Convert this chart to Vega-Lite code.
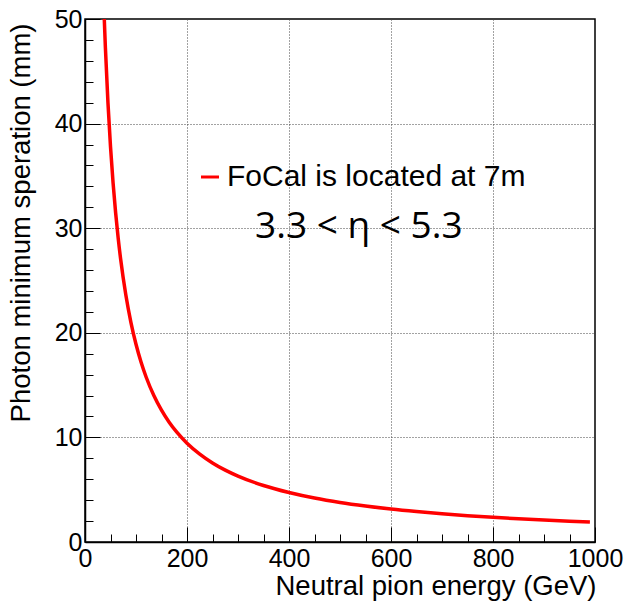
{
  "$schema": "https://vega.github.io/schema/vega-lite/v6.json",
  "width": 510,
  "height": 523,
  "autosize": {"type": "none"},
  "padding": {"left": 85, "top": 19, "right": 31, "bottom": 61},
  "background": "white",
  "config": {
    "view": {"stroke": "black", "strokeWidth": 1.5},
    "axis": {
      "domainColor": "black",
      "domainWidth": 1.5,
      "tickColor": "black",
      "tickWidth": 1,
      "labelFont": "Liberation Sans",
      "labelFontSize": 25,
      "labelColor": "black",
      "titleFont": "Liberation Sans",
      "titleFontSize": 27.5,
      "titleFontWeight": "normal",
      "titleColor": "black",
      "labelFlush": false,
      "labelOverlap": false,
      "gridColor": "#444444",
      "gridDash": [1, 2],
      "gridWidth": 1
    }
  },
  "datasets": {
    "curve": [
      {"E": 37.8, "d": 50.0, "s": "FoCal is located at 7m"},
      {"E": 40, "d": 47.25, "s": "FoCal is located at 7m"},
      {"E": 45, "d": 42.0, "s": "FoCal is located at 7m"},
      {"E": 50, "d": 37.8, "s": "FoCal is located at 7m"},
      {"E": 55, "d": 34.36, "s": "FoCal is located at 7m"},
      {"E": 60, "d": 31.5, "s": "FoCal is located at 7m"},
      {"E": 65, "d": 29.08, "s": "FoCal is located at 7m"},
      {"E": 70, "d": 27.0, "s": "FoCal is located at 7m"},
      {"E": 80, "d": 23.63, "s": "FoCal is located at 7m"},
      {"E": 90, "d": 21.0, "s": "FoCal is located at 7m"},
      {"E": 100, "d": 18.9, "s": "FoCal is located at 7m"},
      {"E": 110, "d": 17.18, "s": "FoCal is located at 7m"},
      {"E": 120, "d": 15.75, "s": "FoCal is located at 7m"},
      {"E": 135, "d": 14.0, "s": "FoCal is located at 7m"},
      {"E": 150, "d": 12.6, "s": "FoCal is located at 7m"},
      {"E": 165, "d": 11.45, "s": "FoCal is located at 7m"},
      {"E": 180, "d": 10.5, "s": "FoCal is located at 7m"},
      {"E": 200, "d": 9.45, "s": "FoCal is located at 7m"},
      {"E": 225, "d": 8.4, "s": "FoCal is located at 7m"},
      {"E": 250, "d": 7.56, "s": "FoCal is located at 7m"},
      {"E": 275, "d": 6.87, "s": "FoCal is located at 7m"},
      {"E": 300, "d": 6.3, "s": "FoCal is located at 7m"},
      {"E": 350, "d": 5.4, "s": "FoCal is located at 7m"},
      {"E": 400, "d": 4.73, "s": "FoCal is located at 7m"},
      {"E": 450, "d": 4.2, "s": "FoCal is located at 7m"},
      {"E": 500, "d": 3.78, "s": "FoCal is located at 7m"},
      {"E": 550, "d": 3.44, "s": "FoCal is located at 7m"},
      {"E": 600, "d": 3.15, "s": "FoCal is located at 7m"},
      {"E": 650, "d": 2.91, "s": "FoCal is located at 7m"},
      {"E": 700, "d": 2.7, "s": "FoCal is located at 7m"},
      {"E": 750, "d": 2.52, "s": "FoCal is located at 7m"},
      {"E": 800, "d": 2.36, "s": "FoCal is located at 7m"},
      {"E": 850, "d": 2.22, "s": "FoCal is located at 7m"},
      {"E": 900, "d": 2.1, "s": "FoCal is located at 7m"},
      {"E": 950, "d": 1.99, "s": "FoCal is located at 7m"},
      {"E": 990, "d": 1.91, "s": "FoCal is located at 7m"}
    ],
    "note": [
      {"E": 537, "d": 29.1, "t": "3.3 < η < 5.3"}
    ]
  },
  "encoding": {
    "x": {
      "field": "E",
      "type": "quantitative",
      "scale": {"domain": [0, 1000], "nice": false, "zero": false},
      "axis": {
        "title": "Neutral pion energy (GeV)",
        "titleAlign": "right",
        "titleBaseline": "alphabetic",
        "titleX": 511,
        "titleY": 52,
        "values": [0, 50, 100, 150, 200, 250, 300, 350, 400, 450, 500, 550, 600, 650, 700, 750, 800, 850, 900, 950, 1000],
        "labelExpr": "indexof([0, 200, 400, 600, 800, 1000], datum.value) >= 0 ? datum.label : ''",
        "labelFontSize": {"condition": {"test": "indexof([0, 200, 400, 600, 800, 1000], datum.value) >= 0", "value": 25}, "value": 0},
        "labelOverlap": false,
        "format": "d",
        "tickSize": {"condition": {"test": "indexof([0, 200, 400, 600, 800, 1000], datum.value) >= 0", "value": -15}, "value": -8},
        "labelPadding": 19,
        "grid": true,
        "gridOpacity": {"condition": {"test": "indexof([200, 400, 600, 800], datum.value) >= 0", "value": 1}, "value": 0}
      }
    },
    "y": {
      "field": "d",
      "type": "quantitative",
      "scale": {"domain": [0, 50], "nice": false},
      "axis": {
        "title": "Photon minimum speration (mm)",
        "titleAlign": "right",
        "titleBaseline": "alphabetic",
        "titleAngle": -90,
        "titleX": -56,
        "titleY": 4,
        "values": [0, 2, 4, 6, 8, 10, 12, 14, 16, 18, 20, 22, 24, 26, 28, 30, 32, 34, 36, 38, 40, 42, 44, 46, 48, 50],
        "labelExpr": "indexof([0, 10, 20, 30, 40, 50], datum.value) >= 0 ? datum.label : ''",
        "labelFontSize": {"condition": {"test": "indexof([0, 10, 20, 30, 40, 50], datum.value) >= 0", "value": 25}, "value": 0},
        "labelOverlap": false,
        "format": "d",
        "tickSize": {"condition": {"test": "indexof([0, 10, 20, 30, 40, 50], datum.value) >= 0", "value": -15}, "value": -8},
        "labelPadding": 18,
        "grid": true,
        "gridOpacity": {"condition": {"test": "indexof([10, 20, 30, 40], datum.value) >= 0", "value": 1}, "value": 0}
      }
    }
  },
  "layer": [
    {
      "data": {"name": "curve"},
      "mark": {"type": "line", "strokeWidth": 3.5, "clip": true, "interpolate": "monotone"},
      "encoding": {
        "color": {
          "field": "s",
          "type": "nominal",
          "scale": {"range": ["#ff0000"]},
          "legend": {
            "orient": "none",
            "legendX": 110,
            "legendY": 143,
            "title": null,
            "padding": 0,
            "symbolType": "stroke",
            "symbolSize": 324,
            "symbolStrokeWidth": 3,
            "labelFont": "Liberation Sans",
            "labelFontSize": 30,
            "labelColor": "black",
            "labelOffset": 2,
            "labelLimit": 0
          }
        }
      }
    },
    {
      "data": {"name": "note"},
      "mark": {"type": "text", "font": "Open Sans", "fontSize": 37, "align": "center", "baseline": "alphabetic", "color": "black"},
      "encoding": {
        "text": {"field": "t"}
      }
    }
  ]
}
